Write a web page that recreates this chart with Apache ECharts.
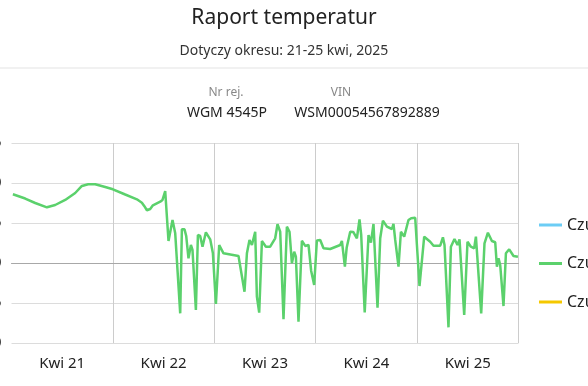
<!DOCTYPE html>
<html>
<head>
<meta charset="utf-8">
<script src="https://cdn.jsdelivr.net/npm/echarts@6/dist/echarts.min.js"></script>
<style>
html,body{margin:0;padding:0;overflow:hidden;width:588px;height:386px;background:#fff;}
#chart{position:absolute;left:-40px;top:0;width:648px;height:386px;}
</style>
</head>
<body>
<div id="chart"></div>
<script>
// ---- Data ----
const titleText = 'Raport temperatur';
const subtitleText = 'Dotyczy okresu: 21-25 kwi, 2025';
const regLabel = 'Nr rej.';
const regValue = 'WGM 4545P';
const vinLabel = 'VIN';
const vinValue = 'WSM00054567892889';
const dayLabels = ['Kwi 21', 'Kwi 22', 'Kwi 23', 'Kwi 24', 'Kwi 25'];
const seriesNames = ['Czujnik 1', 'Czujnik 2', 'Czujnik 3'];
const yTicks = { min: -10, max: 15, step: 5 };
// hours since 21 Apr 2025 00:00
const hours = [0.33,3.24,5.61,8.38,10.34,12.71,15.08,16.66,18.15,19.81,22.18,24.0,26.91,29.68,30.86,31.41,32.05,32.83,33.47,35.2,35.74,
36.38,37.16,38.11,38.75,39.93,40.33,40.95,41.35,41.75,41.89,42.46,42.84,43.64,44.12,44.66,45.21,46.01,47.03,47.67,48.38,49.16,50.18,
53.73,54.13,55.15,55.72,56.33,56.9,57.68,58.08,58.63,59.27,60.21,61.23,62.41,62.96,63.6,64.38,65.18,65.8,66.37,66.91,67.31,67.93,
68.73,69.51,70.3,70.93,71.64,72.28,73.07,73.85,75.43,77.8,78.2,78.91,79.34,80.17,80.88,81.75,82.37,82.77,83.6,84.5,85.07,85.68,
86.63,87.27,87.91,88.85,90.04,90.41,90.82,91.6,92.17,92.95,93.96,94.6,95.55,96.57,97.68,99.1,99.88,101.47,102.11,102.49,103.43,
104.0,104.85,105.56,106.04,107.15,107.93,108.73,109.51,109.92,110.3,111.17,111.95,112.76,113.7,114.49,114.89,115.27,115.67,116.45,
117.02,117.8,118.82,119.86];
const temps2 = [8.59,8.06,7.5,6.96,7.25,7.88,8.75,9.63,9.84,9.84,9.5,9.21,8.56,7.96,7.54,7.13,6.59,6.75,7.21,7.66,7.88,
9.0,2.75,5.38,3.71,-6.29,4.21,4.21,3.38,3.38,0.59,2.25,1.63,-5.88,3.5,3.38,2.04,3.84,2.96,1.21,-5.13,2.25,1.21,
0.88,1.0,-3.59,1.21,2.88,2.25,3.91,-4.21,-6.21,2.75,2.04,2.04,3.09,4.84,3.91,-7.04,4.54,3.91,-0.04,1.41,0.79,-7.34,
2.79,2.13,2.25,-1.0,-2.75,2.81,2.88,1.84,1.75,2.25,2.75,-0.46,1.94,3.91,3.88,3.09,5.44,3.5,-6.19,3.5,2.54,4.88,
-5.59,3.09,5.29,4.54,4.25,4.88,2.88,-0.46,3.91,3.29,5.38,5.59,5.66,-2.88,3.29,2.66,2.16,2.16,3.21,2.25,-8.04,
2.04,3.0,2.25,2.96,-6.5,2.66,2.04,1.84,3.29,3.21,-6.29,2.46,3.79,2.75,2.59,-0.46,0.59,-0.25,-5.38,
1.21,1.71,0.88,0.79];
const temps1 = [];
const temps3 = [];
const colors = ['#6ccdf5', '#5bd16c', '#f5c800'];

const chart = echarts.init(document.getElementById('chart'));
const FONT = 'Noto Sans';
const W = 648;
const offX = 40;
chart.setOption({
  animation: false,
  color: colors,
  textStyle: { fontFamily: FONT },
  title: {
    text: titleText,
    subtext: subtitleText,
    left: 'center',
    top: 3,
    itemGap: 15,
    textStyle: { fontFamily: FONT, fontSize: 21, fontWeight: 'normal', color: '#222' },
    subtextStyle: { fontFamily: FONT, fontSize: 14, color: '#333' }
  },
  graphic: [
    { type: 'line', shape: { x1: 0, y1: 68, x2: W, y2: 68 }, style: { stroke: '#e3e3e3', lineWidth: 1 } },
    { type: 'text', x: 226 + offX, y: 93, style: { text: regLabel, fill: '#888', font: '12px "Noto Sans"', textAlign: 'center', textVerticalAlign: 'middle' } },
    { type: 'text', x: 227 + offX, y: 113, style: { text: regValue, fill: '#222', font: '14px "Noto Sans"', textAlign: 'center', textVerticalAlign: 'middle' } },
    { type: 'text', x: 341 + offX, y: 93, style: { text: vinLabel, fill: '#888', font: '12px "Noto Sans"', textAlign: 'center', textVerticalAlign: 'middle' } },
    { type: 'text', x: 367 + offX, y: 113, style: { text: vinValue, fill: '#222', font: '14px "Noto Sans"', textAlign: 'center', textVerticalAlign: 'middle' } }
  ],
  legend: {
    orient: 'vertical',
    left: 579,
    top: 217,
    padding: 0,
    icon: 'rect',
    itemWidth: 23,
    itemHeight: 3,
    itemGap: 22.5,
    textStyle: { fontFamily: FONT, fontSize: 16, color: '#222' },
    data: seriesNames
  },
  grid: { left: 51.5, right: W - 558.5, top: 143, bottom: 43 },
  xAxis: [
    {
      type: 'value', min: 0, max: 120, interval: 24,
      axisLabel: { show: false },
      axisTick: { show: false },
      axisLine: { show: true, onZero: true, lineStyle: { color: '#a8a8a8', width: 1 } },
      splitLine: { show: true, showMinLine: false, lineStyle: { color: '#cccccc', width: 1 } }
    },
    {
      type: 'category', data: dayLabels, position: 'bottom', boundaryGap: true,
      axisLine: { show: false }, axisTick: { show: false }, splitLine: { show: false },
      axisLabel: { margin: 13, fontSize: 15, color: '#222', fontFamily: FONT }
    }
  ],
  yAxis: {
    type: 'value', min: yTicks.min, max: yTicks.max, interval: yTicks.step,
    axisLine: { show: false }, axisTick: { show: false },
    axisLabel: { margin: 10, fontSize: 15, color: '#222', fontFamily: FONT },
    splitLine: { lineStyle: { color: '#dcdcdc', width: 1 } }
  },
  series: [
    { name: seriesNames[0], type: 'line', symbol: 'none', xAxisIndex: 0, data: hours.slice(0, temps1.length).map((h, i) => [h, temps1[i]]), lineStyle: { width: 2.5 } },
    { name: seriesNames[1], type: 'line', symbol: 'none', xAxisIndex: 0, data: hours.map((h, i) => [h, temps2[i]]), lineStyle: { width: 2.5 } },
    { name: seriesNames[2], type: 'line', symbol: 'none', xAxisIndex: 0, data: hours.slice(0, temps3.length).map((h, i) => [h, temps3[i]]), lineStyle: { width: 2.5 } }
  ]
});
</script>
</body>
</html>
